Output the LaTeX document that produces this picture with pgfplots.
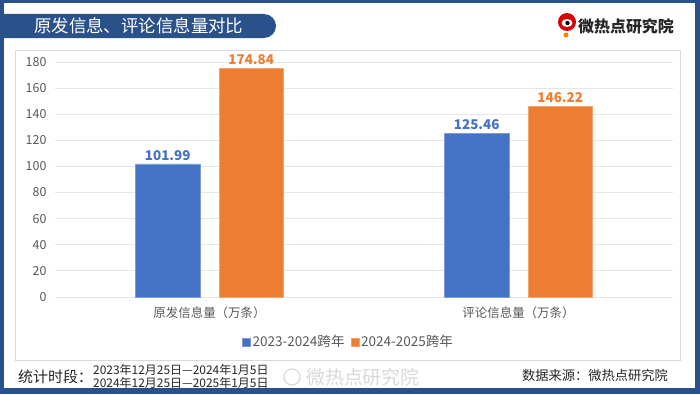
\documentclass[border=0pt]{standalone}
\usepackage{pgfplots}
\pgfplotsset{compat=1.18}
\usepackage{fontspec}
\setmainfont{Noto Sans CJK SC}
\definecolor{frame}{HTML}{2A5189}
\definecolor{cblue}{HTML}{4472C4}
\definecolor{corange}{HTML}{ED7D31}
\definecolor{gridgray}{HTML}{E6E6E6}
\definecolor{panelgray}{HTML}{D9D9D9}
\definecolor{tickgray}{HTML}{595959}
\definecolor{txt}{HTML}{262626}
\begin{document}
\begin{tikzpicture}[x=1bp,y=1bp]
\useasboundingbox (0,0) rectangle (700,394);
% frame
\fill[frame] (0,0) rectangle (700,394);
\fill[white] (4,6) rectangle (695,391);
% panel
\draw[panelgray, line width=0.8bp, fill=white] (15,34) rectangle (680,344);
% title banner
\fill[frame] (0,380) -- (264,380) arc[start angle=90,end angle=-90,radius=12] -- (0,356) -- cycle;
\node[anchor=west, text=white, font=\fontsize{17.5}{18}\selectfont, inner sep=0] at (34,368) {原发信息、评论信息量对比};
% top-right logo
\fill[red!85!black] (567,372) circle (9);
\fill[white] (567,371) ellipse (5.5 and 4);
\fill[black] (567.5,371) circle (2.2);
\fill[orange] (566,359) circle (2.5);
\node[anchor=west, text=txt, font=\bfseries\fontsize{16}{16}\selectfont, inner sep=0] at (578,368) {微热点研究院};
% footer
\node[anchor=west, text=txt, font=\fontsize{15}{15}\selectfont, inner sep=0] at (18,17) {统计时段：};
\node[anchor=west, text=txt, font=\fontsize{12}{12}\selectfont, inner sep=0] at (93,24) {2023年12月25日—2024年1月5日};
\node[anchor=west, text=txt, font=\fontsize{12}{12}\selectfont, inner sep=0] at (93,11) {2024年12月25日—2025年1月5日};
\draw[gray!30, line width=1.2bp] (292,17) circle (8);
\node[anchor=west, text=gray!30, font=\fontsize{19}{19}\selectfont, inner sep=0] at (306,17) {微热点研究院};
\node[anchor=east, text=txt, font=\fontsize{13.3}{14}\selectfont, inner sep=0] at (668,19) {数据来源：微热点研究院};
\begin{axis}[
  at={(55bp,97bp)}, anchor=south west,
  scale only axis, width=618bp, height=235bp,
  xmin=-0.5, xmax=1.5, ymin=0, ymax=180,
  ybar, bar width=64.5bp,
  xtick={0,1}, xticklabels={原发信息量（万条）,评论信息量（万条）},
  ytick={0,20,...,180},
  axis line style={draw=none},
  major tick length=0pt,
  ymajorgrids, grid style={draw=gridgray, line width=0.8bp},
  /pgf/number format/assume math mode=true,
  tick label style={font=\fontsize{12.5}{13}\selectfont, text=tickgray},
  yticklabel style={xshift=-5bp},
  xticklabel style={yshift=-6bp},
  clip=false,
  legend style={at={(0.475,-0.1915)}, anchor=center, draw=none, fill=none,
    legend columns=2, font=\fontsize{13.6}{14}\selectfont, text=tickgray,
    /tikz/every even column/.append style={column sep=4bp},
    inner sep=0pt},
  legend image code/.code={\fill[#1] (0bp,-4bp) rectangle (8bp,4bp);},
  nodes near coords={\pgfmathprintnumber[fixed,precision=2,fixed zerofill]{\pgfplotspointmeta}},
  every node near coord/.append style={font=\bfseries\fontsize{13.5}{14}\selectfont, anchor=south, yshift=0bp},
]
\addplot[fill=cblue, draw=cblue!70!white, line width=0.5bp, bar shift=-41.75bp,
  nodes near coords style={text=cblue}] coordinates {(0,101.99) (1,125.46)};
\addplot[fill=corange, draw=corange!70!white, line width=0.5bp, bar shift=41.75bp,
  nodes near coords style={text=corange}] coordinates {(0,174.84) (1,146.22)};
\legend{2023-2024跨年,2024-2025跨年}
\end{axis}
\end{tikzpicture}
\end{document}
